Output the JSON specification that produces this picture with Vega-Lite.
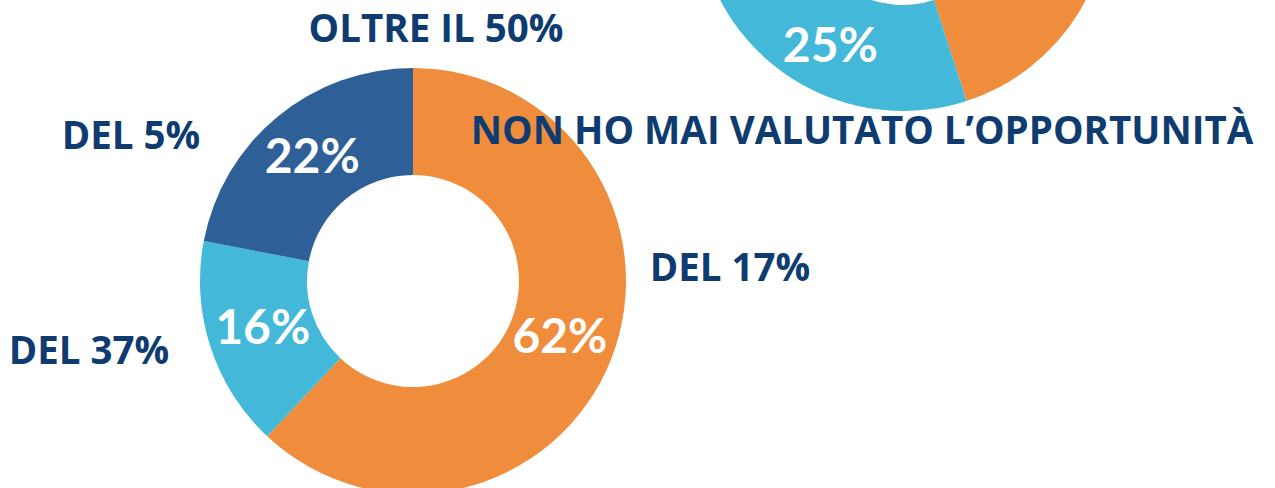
{
  "$schema": "https://vega.github.io/schema/vega-lite/v6.json",
  "width": 1275,
  "height": 488,
  "autosize": "none",
  "padding": 0,
  "background": "white",
  "config": {"view": {"stroke": null}},
  "datasets": {
    "quote": [
      {"grafico": "sinistra", "segmento": "arancione", "valore": 0.62},
      {"grafico": "sinistra", "segmento": "azzurro", "valore": 0.16},
      {"grafico": "sinistra", "segmento": "blu", "valore": 0.22},
      {"grafico": "destra", "segmento": "arancione", "valore": 0.45},
      {"grafico": "destra", "segmento": "azzurro", "valore": 0.25},
      {"grafico": "destra", "segmento": "blu", "valore": 0.30}
    ],
    "etichette": [
      {"testo": "OLTRE IL 50%", "px": 436, "py": 30},
      {"testo": "DEL 5%", "px": 131, "py": 137},
      {"testo": "NON HO MAI VALUTATO L’OPPORTUNITÀ", "px": 862, "py": 132},
      {"testo": "DEL 17%", "px": 730, "py": 269},
      {"testo": "DEL 37%", "px": 89, "py": 352}
    ]
  },
  "layer": [
    {
      "data": {"name": "quote"},
      "transform": [{"filter": "datum.grafico === 'destra'"}],
      "mark": {"type": "arc", "x": 903, "y": -95, "outerRadius": 206, "innerRadius": 100},
      "encoding": {
        "theta": {"field": "valore", "type": "quantitative", "stack": true},
        "color": {"field": "segmento", "type": "nominal", "legend": null,
          "scale": {"domain": ["arancione", "azzurro", "blu"], "range": ["#F08D3D", "#43B8D8", "#2F5F97"]}},
        "order": {"field": "segmento", "type": "ordinal"}
      }
    },
    {
      "data": {"name": "quote"},
      "transform": [{"filter": "datum.grafico === 'sinistra'"}],
      "mark": {"type": "arc", "x": 413, "y": 281, "outerRadius": 213, "innerRadius": 106},
      "encoding": {
        "theta": {"field": "valore", "type": "quantitative", "stack": true},
        "color": {"field": "segmento", "type": "nominal", "legend": null,
          "scale": {"domain": ["arancione", "azzurro", "blu"], "range": ["#F08D3D", "#43B8D8", "#2F5F97"]}},
        "order": {"field": "segmento", "type": "ordinal"}
      }
    },
    {
      "data": {"name": "quote"},
      "transform": [{"filter": "datum.grafico === 'destra'"}],
      "mark": {"type": "text", "x": 903, "y": -95, "radius": 160, "font": "Lato", "fontWeight": "bold", "fontSize": 48, "align": "center", "baseline": "middle"},
      "encoding": {
        "theta": {"field": "valore", "type": "quantitative", "stack": true},
        "detail": {"field": "segmento", "type": "nominal"},
        "order": {"field": "segmento", "type": "ordinal"},
        "opacity": {"condition": {"test": "datum.segmento === 'azzurro'", "value": 1}, "value": 0},
        "color": {"value": "white"},
        "text": {"field": "valore", "type": "quantitative", "format": ".0%"}
      }
    },
    {
      "data": {"name": "quote"},
      "transform": [{"filter": "datum.grafico === 'sinistra'"}],
      "mark": {"type": "text", "x": 413, "y": 281, "radius": 158, "font": "Lato", "fontWeight": "bold", "fontSize": 48, "color": "white", "align": "center", "baseline": "middle"},
      "encoding": {
        "theta": {"field": "valore", "type": "quantitative", "stack": true},
        "detail": {"field": "segmento", "type": "nominal"},
        "order": {"field": "segmento", "type": "ordinal"},
        "text": {"field": "valore", "type": "quantitative", "format": ".0%"}
      }
    },
    {
      "data": {"name": "etichette"},
      "mark": {"type": "text", "font": "Open Sans", "fontWeight": "bold", "fontSize": 38.5, "color": "#0F3C70", "align": "center", "baseline": "middle"},
      "encoding": {
        "x": {"field": "px", "type": "quantitative", "axis": null, "scale": {"domain": [0, 1275], "nice": false, "zero": false}},
        "y": {"field": "py", "type": "quantitative", "axis": null, "scale": {"domain": [0, 488], "nice": false, "zero": false, "reverse": true}},
        "text": {"field": "testo", "type": "nominal"}
      }
    }
  ]
}
